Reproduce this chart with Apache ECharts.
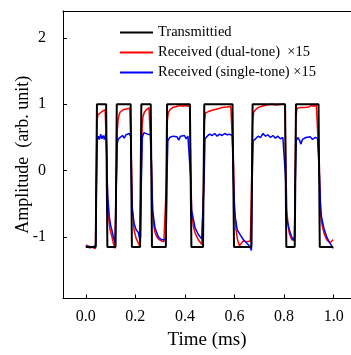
<!DOCTYPE html>
<html>
<head>
<meta charset="utf-8">
<script src="https://cdn.jsdelivr.net/npm/echarts@6/dist/echarts.min.js"></script>
<style>
html,body{margin:0;padding:0;background:#fff;}
#c{width:351px;height:355px;}
</style>
</head>
<body>
<div id="c"></div>
<script>
const xTicks = [0, 0.2, 0.4, 0.6, 0.8, 1.0];
const yTicks = [-1, 0, 1, 2];
const seriesNames = ['Transmittied', 'Received (dual-tone)  \u00d715', 'Received (single-tone) \u00d715'];

const transTime = [0, 0.040, 0.045, 0.082, 0.087, 0.120, 0.125, 0.181, 0.186, 0.219, 0.224, 0.262, 0.267, 0.323, 0.328, 0.420, 0.426, 0.473, 0.478, 0.592, 0.598, 0.668, 0.673, 0.804, 0.809, 0.843, 0.848, 0.939, 0.944, 0.998];
const transAmp  = [-1.15, -1.15, 1.0, 1.0, -1.15, -1.15, 1.0, 1.0, -1.15, -1.15, 1.0, 1.0, -1.15, -1.15, 1.0, 1.0, -1.15, -1.15, 1.0, 1.0, -1.15, -1.15, 1.0, 1.0, -1.15, -1.15, 1.0, 1.0, -1.15, -1.15];

const dualTime = [
 0.000,0.008,0.016,0.024,0.030,0.035,0.039,
 0.042,0.045,0.048,0.055,0.062,0.070,0.078,0.082,
 0.085,0.088,0.093,0.098,0.105,0.111,0.117,0.120,
 0.123,0.127,0.130,0.134,0.138,0.145,0.152,0.165,0.178,0.182,
 0.185,0.188,0.195,0.203,0.212,0.218,0.221,
 0.223,0.227,0.230,0.236,0.245,0.255,0.262,
 0.265,0.269,0.274,0.279,0.286,0.293,0.306,0.315,0.322,
 0.325,0.329,0.333,0.340,0.350,0.360,0.370,0.380,0.390,0.400,0.410,0.419,
 0.423,0.427,0.434,0.441,0.454,0.468,0.473,
 0.475,0.479,0.483,0.495,0.510,0.530,0.550,0.570,0.585,0.592,
 0.596,0.600,0.606,0.612,0.620,0.626,0.634,0.650,0.664,
 0.669,0.673,0.677,0.685,0.695,0.710,0.730,0.750,0.770,0.790,0.803,
 0.807,0.811,0.816,0.821,0.831,0.838,0.842,
 0.844,0.848,0.852,0.860,0.868,0.876,0.884,0.892,0.900,0.910,0.920,0.930,0.938,
 0.942,0.946,0.951,0.961,0.972,0.985,0.992,0.998];
const dualAmp = [
 -1.12,-1.13,-1.14,-1.15,-1.16,-1.19,-1.17,
 -0.3,0.70,0.84,0.86,0.88,0.90,0.92,0.93,
 0.2,-0.55,-0.75,-0.89,-0.99,-1.09,-1.17,-1.15,
 -0.2,0.60,0.75,0.84,0.88,0.90,0.92,0.93,0.94,0.93,
 0.0,-0.6,-0.90,-1.02,-1.09,-1.14,-1.13,
 -0.2,0.65,0.80,0.88,0.92,0.95,0.96,
 0.1,-0.6,-0.82,-0.93,-0.99,-1.03,-1.06,-1.07,-1.06,
 -0.2,0.75,0.88,0.92,0.95,0.96,0.97,0.98,0.97,0.98,0.97,0.98,
 0.1,-0.6,-0.84,-0.94,-1.04,-1.11,-1.14,
 -0.2,0.75,0.87,0.89,0.91,0.93,0.95,0.96,0.97,0.96,
 0.1,-0.6,-0.88,-1.04,-1.13,-1.10,-1.06,-1.07,-1.06,
 -0.2,0.70,0.88,0.92,0.95,0.97,0.99,1.00,0.99,1.00,1.00,
 0.1,-0.6,-0.82,-0.94,-1.04,-1.06,-1.05,
 -0.2,0.80,0.94,0.96,0.95,0.97,0.95,0.97,0.96,0.98,0.97,0.99,1.02,
 0.1,-0.6,-0.78,-0.94,-1.04,-1.09,-1.06,-1.04];

const singleTime = [
 0.000,0.008,0.016,0.024,0.030,0.036,0.040,
 0.043,0.046,0.050,0.055,0.060,0.065,0.070,0.075,0.080,0.083,
 0.086,0.089,0.095,0.100,0.105,0.110,0.114,0.119,
 0.123,0.127,0.132,0.140,0.148,0.155,0.162,0.170,0.176,0.181,
 0.184,0.187,0.195,0.203,0.212,0.218,0.221,
 0.224,0.228,0.234,0.242,0.250,0.258,0.262,
 0.266,0.270,0.279,0.293,0.306,0.320,0.324,
 0.327,0.331,0.338,0.345,0.352,0.360,0.368,0.375,0.382,0.390,0.398,0.405,0.412,0.419,
 0.423,0.427,0.441,0.454,0.468,0.474,
 0.477,0.481,0.490,0.500,0.510,0.520,0.530,0.540,0.550,0.560,0.570,0.580,0.591,
 0.595,0.600,0.603,0.611,0.622,0.636,0.649,0.662,0.668,
 0.671,0.675,0.685,0.695,0.705,0.715,0.725,0.735,0.745,0.755,0.765,0.775,0.785,0.795,0.803,
 0.806,0.810,0.821,0.831,0.837,0.842,
 0.845,0.849,0.855,0.862,0.868,0.874,0.880,0.888,0.896,0.905,0.915,0.925,0.935,0.939,
 0.943,0.947,0.951,0.961,0.972,0.985,0.998];
const singleAmp = [
 -1.13,-1.14,-1.16,-1.17,-1.15,-1.18,-1.12,
 -0.2,0.45,0.52,0.47,0.55,0.48,0.53,0.47,0.55,0.50,
 -0.1,-0.40,-0.70,-0.82,-0.89,-0.98,-1.04,-1.09,
 -0.2,0.42,0.48,0.50,0.53,0.49,0.54,0.52,0.56,0.51,
 -0.1,-0.55,-0.80,-0.89,-0.93,-1.04,-1.00,
 -0.2,0.50,0.57,0.59,0.55,0.53,0.54,
 -0.1,-0.60,-0.86,-1.00,-1.04,-1.04,-1.00,
 -0.2,0.45,0.50,0.47,0.52,0.49,0.51,0.46,0.52,0.49,0.53,0.48,0.52,0.50,
 -0.1,-0.60,-0.86,-0.96,-1.03,-1.06,
 -0.2,0.48,0.52,0.55,0.53,0.56,0.52,0.55,0.53,0.56,0.54,0.55,0.53,
 -0.1,-0.55,-0.70,-0.89,-0.96,-1.04,-1.09,-1.14,-1.20,
 -0.2,0.45,0.48,0.52,0.50,0.56,0.52,0.54,0.50,0.53,0.49,0.52,0.48,0.50,0.52,
 -0.1,-0.70,-0.89,-1.00,-1.04,-1.00,
 -0.2,0.45,0.50,0.46,0.40,0.47,0.44,0.50,0.48,0.51,0.47,0.50,0.49,0.52,
 -0.1,-0.5,-0.70,-0.87,-1.00,-1.09,-1.17];

function pairs(t, v) { return t.map((x, i) => [x, v[i]]); }

const FONT = 'Liberation Serif';
const chart = echarts.init(document.getElementById('c'), null, {renderer: 'canvas'});
chart.setOption({
  animation: false,
  backgroundColor: '#fff',
  grid: {left: 63, right: 0, top: 11, bottom: 53, containLabel: false},
  legend: {
    orient: 'vertical',
    left: 120, top: 25, padding: 0,
    icon: 'rect',
    itemWidth: 33, itemHeight: 2, itemGap: 5,
    data: seriesNames,
    textStyle: {fontFamily: FONT, fontSize: 14.5, lineHeight: 15, color: '#000'}
  },
  xAxis: [{
    type: 'value', min: -0.092, max: 1.07,
    name: 'Time (ms)', nameLocation: 'middle', nameGap: 42, nameMoveOverlap: false,
    nameTextStyle: {fontFamily: FONT, fontSize: 19, color: '#000', verticalAlign: 'middle'},
    axisLine: {onZero: false, lineStyle: {color: '#000', width: 1}},
    axisTick: {inside: true, length: 4, customValues: xTicks, lineStyle: {color: '#000'}},
    axisLabel: {customValues: xTicks, fontFamily: FONT, fontSize: 16, color: '#000', margin: 10,
      formatter: v => v.toFixed(1)},
    splitLine: {show: false}
  }, {
    type: 'value', position: 'top', min: -0.092, max: 1.07,
    axisLine: {show: true, onZero: false, lineStyle: {color: '#000', width: 1}},
    axisTick: {show: false}, axisLabel: {show: false}, splitLine: {show: false}
  }],
  yAxis: {
    type: 'value', min: -1.924, max: 2.404,
    name: 'Amplitude  (arb. unit)', nameLocation: 'middle', nameGap: 40, nameMoveOverlap: false,
    nameTextStyle: {fontFamily: FONT, fontSize: 18, color: '#000', verticalAlign: 'middle'},
    axisLine: {show: true, onZero: false, lineStyle: {color: '#000', width: 1}},
    axisTick: {show: true, inside: true, length: 4, customValues: yTicks, lineStyle: {color: '#000'}},
    axisLabel: {customValues: yTicks, fontFamily: FONT, fontSize: 16, color: '#000', margin: 17,
      formatter: v => String(v)},
    splitLine: {show: false}
  },
  series: [
    {name: seriesNames[1], type: 'line', data: pairs(dualTime, dualAmp), symbol: 'none',
     lineStyle: {color: '#ff0000', width: 1.5}, itemStyle: {color: '#ff0000'}, z: 2},
    {name: seriesNames[2], type: 'line', data: pairs(singleTime, singleAmp), symbol: 'none',
     lineStyle: {color: '#0000ff', width: 1.5}, itemStyle: {color: '#0000ff'}, z: 2},
    {name: seriesNames[0], type: 'line', data: pairs(transTime, transAmp), symbol: 'none',
     lineStyle: {color: '#000', width: 2}, itemStyle: {color: '#000'}, z: 3}
  ]
});
</script>
</body>
</html>
